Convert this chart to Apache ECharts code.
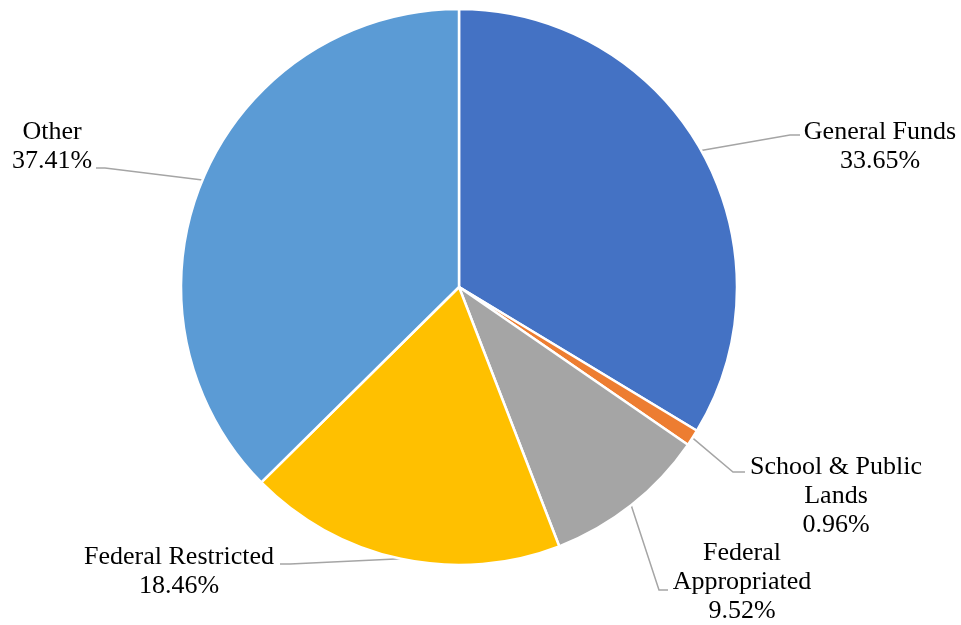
<!DOCTYPE html>
<html>
<head>
<meta charset="utf-8">
<script src="https://cdn.jsdelivr.net/npm/echarts@6/dist/echarts.min.js"></script>
<style>html,body{margin:0;padding:0;background:#fff}#c{width:961px;height:625px}</style>
</head>
<body>
<div id="c"></div>
<script>
const categories = ['General Funds', 'School & Public Lands', 'Federal Appropriated', 'Federal Restricted', 'Other'];
const labelLines = ['General Funds', 'School & Public\nLands', 'Federal\nAppropriated', 'Federal Restricted', 'Other'];
const values = [33.65, 0.96, 9.52, 18.46, 37.41];
const colors = ['#4472C4', '#ED7D31', '#A5A5A5', '#FFC000', '#5B9BD5'];

// label layout (position of label centre, leader bend and end)
const labelPos = [
  {x: 880, y: 147, bend: [790, 135], end: [800, 135]},
  {x: 836, y: 496, bend: [733, 472], end: [745, 472]},
  {x: 742, y: 582, bend: [659, 590], end: [668, 590]},
  {x: 179, y: 572, bend: [290, 564], end: [280, 564]},
  {x: 52, y: 147, bend: [105, 168], end: [96, 168]}
];

const cx = 459, cy = 287, R = 278;
const total = values.reduce((a, b) => a + b, 0);
function edgePoint(i) {
  let before = 0;
  for (let k = 0; k < i; k++) before += values[k];
  const midFrac = (before + values[i] / 2) / total;
  const ang = (90 - midFrac * 360) * Math.PI / 180;
  return [cx + R * Math.cos(ang), cy - R * Math.sin(ang)];
}

const chart = echarts.init(document.getElementById('c'));
chart.setOption({
  animation: false,
  series: [{
    type: 'pie',
    center: [cx, cy],
    radius: R,
    startAngle: 90,
    clockwise: true,
    data: categories.map((n, i) => ({name: n, value: values[i], itemStyle: {color: colors[i]}})),
    itemStyle: {borderColor: '#fff', borderWidth: 2.5},
    label: {
      show: true,
      position: 'outside',
      formatter: p => labelLines[p.dataIndex] + '\n' + values[p.dataIndex].toFixed(2) + '%',
      fontFamily: 'Liberation Serif',
      fontSize: 26,
      lineHeight: 29,
      color: '#000',
      align: 'center'
    },
    labelLine: {show: true, lineStyle: {color: '#A5A5A5', width: 1.5}},
    labelLayout: function (params) {
      const L = labelPos[params.dataIndex];
      return {
        x: L.x, y: L.y, align: 'center', verticalAlign: 'middle',
        labelLinePoints: [edgePoint(params.dataIndex), L.bend, L.end]
      };
    }
  }]
});
</script>
</body>
</html>
